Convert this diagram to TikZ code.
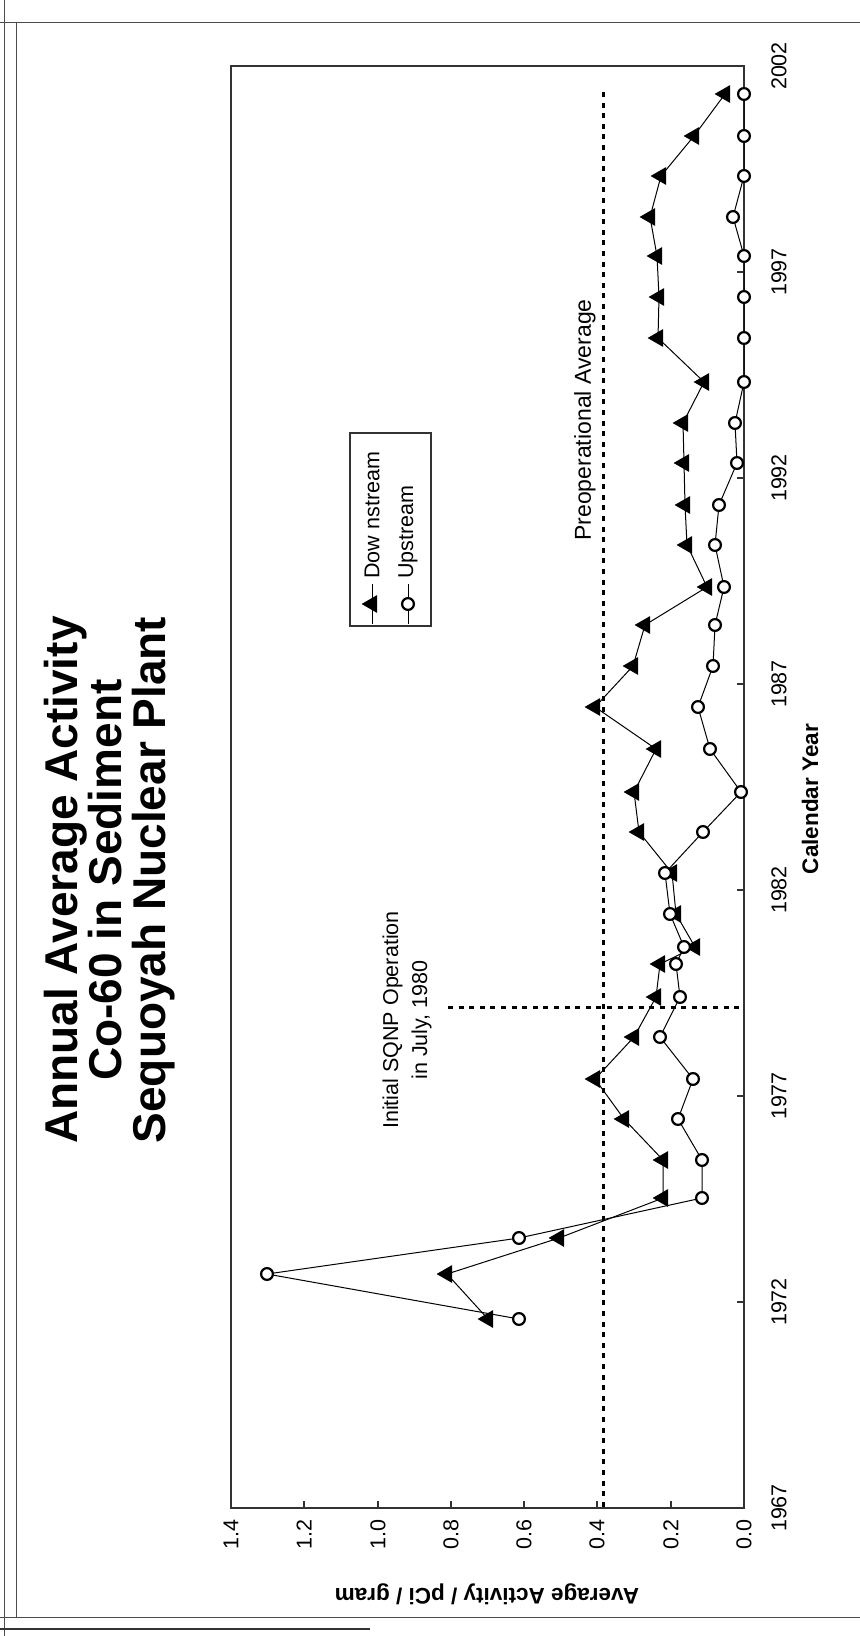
\documentclass[tikz,border=0pt]{standalone}
\usepackage{fontspec}
\setmainfont{Liberation Sans}
\usetikzlibrary{shapes.geometric}

\begin{document}
\begin{tikzpicture}[x=0.5pt, y=-0.5pt]
\tikzset{
    frame/.style= {draw=black!80, line width=0.6pt},
    series/.style= {black, line width=0.5pt},
    dmark/.style= {regular polygon, regular polygon sides=3, shape border rotate=90, fill=black, inner sep=0pt, minimum size=10.4pt},
    umark/.style= {circle, draw=black, fill=white, line width=1.1pt, inner sep=0pt, minimum size=5.9pt},
    refline/.style= {black, line width=1.5pt, dash pattern=on 2.5pt off 2.8pt},
    lbl/.style= {font=\fontsize{10.75pt}{13pt}\selectfont, inner sep=0pt},
    axtitle/.style= {font=\bfseries\fontsize{11.25pt}{13pt}\selectfont, inner sep=0pt},
    ptitle/.style= {font=\bfseries\fontsize{23pt}{22pt}\selectfont, inner sep=0pt, align=center},
}

\fill[white] (0,0) rectangle (860,1636);
\useasboundingbox (0,0) rectangle (860,1636);

\draw[black!70, line width=0.4pt] (0,22) -- (860,22);
\draw[black!70, line width=0.4pt] (4,0) -- (4,1636);
\draw[black!70, line width=0.4pt] (16,22) -- (16,1617);
\draw[black!70, line width=0.4pt] (0,1617) -- (860,1617);
\draw[black!80, line width=0.8pt] (0,1629) -- (370,1629);

\node[ptitle, rotate=90] (title) at (110,880) {Annual Average Activity\\Co-60 in Sediment\\Sequoyah Nuclear Plant};

\draw[frame] (231,66) rectangle (744,1508);

\foreach \xx/\val [count=\k] in {744/0.0, 671/0.2, 597/0.4, 524/0.6, 451/0.8, 378/1.0, 304/1.2, 231/1.4} {
    \draw[frame] (\xx,1508) -- (\xx,1501);
    \node[lbl, rotate=90, anchor=east] (v\k) at (\xx,1519) {\val};
}
\foreach \yy/\yr [count=\k] in {1508/1967, 1302/1972, 1096/1977, 890/1982, 684/1987, 478/1992, 272/1997, 66/2002} {
    \draw[frame] (744,\yy) -- (737,\yy);
    \node[lbl, rotate=90, anchor=north] (yr\k) at (771,\yy) {\yr};
}

\node[axtitle, rotate=180] (ylab) at (487,1594) {Average Activity / pCi / gram};
\node[axtitle, rotate=90] (xlab) at (810,799) {Calendar Year};

\coordinate (pa1) at (603,92);
\coordinate (pa2) at (603,1508);
\draw[refline] (pa1) -- (pa2);
\node[lbl, rotate=90, font=\fontsize{11.5pt}{13pt}\selectfont] (pre) at (585,420) {Preoperational Average};

\coordinate (op1) at (448,1007);
\coordinate (op2) at (744,1007);
\draw[refline] (op1) -- (op2);
\node[lbl, rotate=90, align=center, font=\fontsize{10.75pt}{14.5pt}\selectfont] (sqnp) at (407,1020) {Initial SQNP Operation\\in July, 1980};

\foreach \yy/\dn/\up [count=\i] in {94/725/744, 136/694/744, 176/661/744, 217/650/733,
    256/657/744, 297/659/744, 338/658/744, 382/704/744, 423/683/735, 463/684/737,
    505/685/719, 545/687/715, 587/707/724, 625/645/715, 666/633/713, 707/595/698,
    749/656/710, 792/634/741, 832/639/703, 873/672/665, 914/676/670, 947/695/684,
    964/660/676, 997/656/680, 1037/634/660, 1079/595/693, 1119/624/678, 1160/663/702,
    1198/663/702, 1238/559/519, 1274/447/267, 1319/488/519} {
    \coordinate (d\i) at (\dn,\yy);
    \coordinate (u\i) at (\up,\yy);
}
\draw[series] (d1) \foreach \i in {2,...,32} { -- (d\i) };
\draw[series] (u1) \foreach \i in {2,...,32} { -- (u\i) };
\foreach \i in {1,...,32} \node[dmark] (dm\i) at (d\i) {};
\foreach \i in {1,...,32} \node[umark] (um\i) at (u\i) {};

% legend
\draw[frame] (350,433) rectangle (431,626);
\coordinate (ld1) at (372,584);
\coordinate (ld2) at (372,624);
\draw[series] (ld1) -- (ld2);
\node[dmark] (ldm) at (372,604) {};
\node[lbl, rotate=90, anchor=west] (ldt) at (372,579) {Dow nstream};
\coordinate (lu1) at (408,584);
\coordinate (lu2) at (408,624);
\draw[series] (lu1) -- (lu2);
\node[umark] (lum) at (408,604) {};
\node[lbl, rotate=90, anchor=west] (lut) at (408,579) {Upstream};
\end{tikzpicture}
\end{document}
